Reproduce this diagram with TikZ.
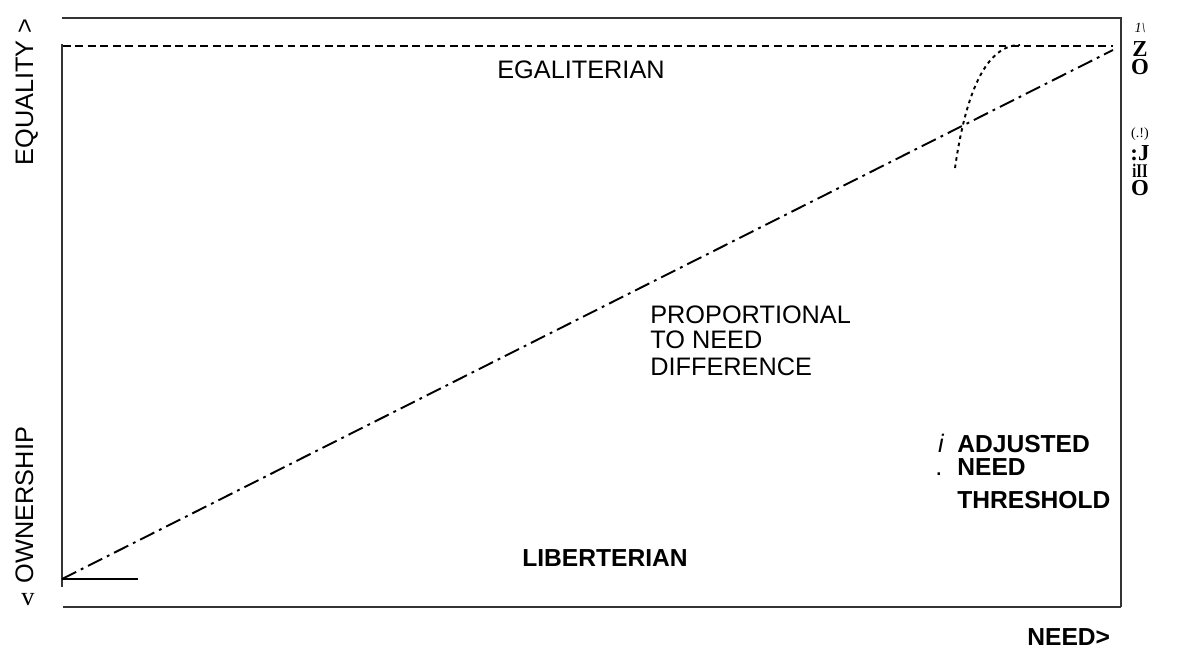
\documentclass[tikz,border=0pt]{standalone}
\usepackage{fontspec}
\usepackage{graphicx}
\setmainfont{Liberation Sans}
\newfontfamily\ocrserif{Liberation Serif}
\usetikzlibrary{positioning}

\tikzset{
  frameline/.style={draw=black!80, line width=0.8pt},
  eqline/.style={line width=1.1pt, dash pattern=on 4.5pt off 2.6pt},
  propline/.style={line width=1.1pt, dash pattern=on 9pt off 3pt on 1.6pt off 3pt},
  threshline/.style={line width=1.1pt, dash pattern=on 2pt off 2.2pt},
  lbl/.style={font=\fontsize{14.4}{15}\selectfont, inner sep=0pt},
  blbl/.style={font=\fontsize{14}{15}\selectfont\bfseries, inner sep=0pt},
  ocrstack/.style={font=\ocrserif\bfseries\fontsize{13}{10.5}\selectfont, inner sep=0pt, anchor=north, align=center},
}
\newcommand{\ocrsmall}[1]{{\mdseries\fontsize{8}{8}\selectfont #1}}

\begin{document}
\begin{tikzpicture}[x=0.02cm, y=-0.02cm]
  \useasboundingbox (0,0) rectangle (1178,649);

  % Frame
  \coordinate (tl) at (62,18);
  \coordinate (tr) at (1122,18);
  \coordinate (br) at (1121,607);
  \coordinate (bl) at (63,607);
  \draw[frameline] (tl) -- (tr);
  \draw[frameline] (tr -| br) -- (br);
  \draw[frameline] (bl) -- (br);

  % Ownership axis
  \coordinate (axtop) at (62,44);
  \coordinate (axbot) at (62,587);
  \coordinate (org) at (62,579);
  \coordinate (orgend) at (138,579);
  \draw[frameline] (axtop) -- (axbot);
  \draw[line width=1.1pt] (org) -- (orgend);

  % Egaliterian line
  \coordinate (eqa) at (63,46);
  \coordinate (eqb) at (1113,46);
  \draw[eqline] (eqa) -- (eqb);

  % Proportional line
  \coordinate (propend) at (1113,50);
  \draw[propline] (org) -- (propend);

  % Adjusted need threshold
  \coordinate (tha) at (955,168);
  \coordinate (thb) at (1020,45);
  \draw[threshline] (tha) .. controls (964,105) and (982,45) .. (thb);

  % Labels
  \node[lbl, anchor=base west] (egal) at (497,78) {EGALITERIAN};
  \node[lbl, anchor=base west] (prop1) at (650,323) {PROPORTIONAL};
  \node[lbl, anchor=base west] (prop2) at (650,348) {TO NEED};
  \node[lbl, anchor=base west] (prop3) at (650,375) {DIFFERENCE};
  \node[blbl, anchor=base west] (liber) at (522,566) {LIBERTERIAN};
  \node[blbl, anchor=base west] (adj1) at (957,452) {ADJUSTED};
  \node[blbl, anchor=base west] (adj2) at (957,475) {NEED};
  \node[blbl, anchor=base west] (adj3) at (957,508) {THRESHOLD};
  \node[lbl, anchor=base] (adji) at (941,452) {\itshape i};
  \node[lbl, anchor=base] (adjdot) at (939,475) {.};
  \node[blbl, anchor=base west] (need) at (1027,645) {NEED>};

  % Vertical axis labels
  \node[lbl, anchor=base, rotate=90] (equal) at (33,92) {EQUALITY >};
  \node[lbl, anchor=base, rotate=90] (owner) at (33,505) {OWNERSHIP};
  \node[lbl, anchor=base, font=\ocrserif\fontsize{15}{15}\selectfont] (vee) at (28,605) {v};

  % Right margin characters
  \node[ocrstack] (rtop) at (1140,23) {\ocrsmall{\itshape 1\textbackslash}\\[3pt] Z\\ O};
  \node[ocrstack] (rbot) at (1140,127) {\ocrsmall{(.!)}\\[3pt] :J\\[-1pt]
    \scalebox{0.75}[1]{\fontsize{11}{11}\selectfont iII}\\ O};
\end{tikzpicture}
\end{document}
